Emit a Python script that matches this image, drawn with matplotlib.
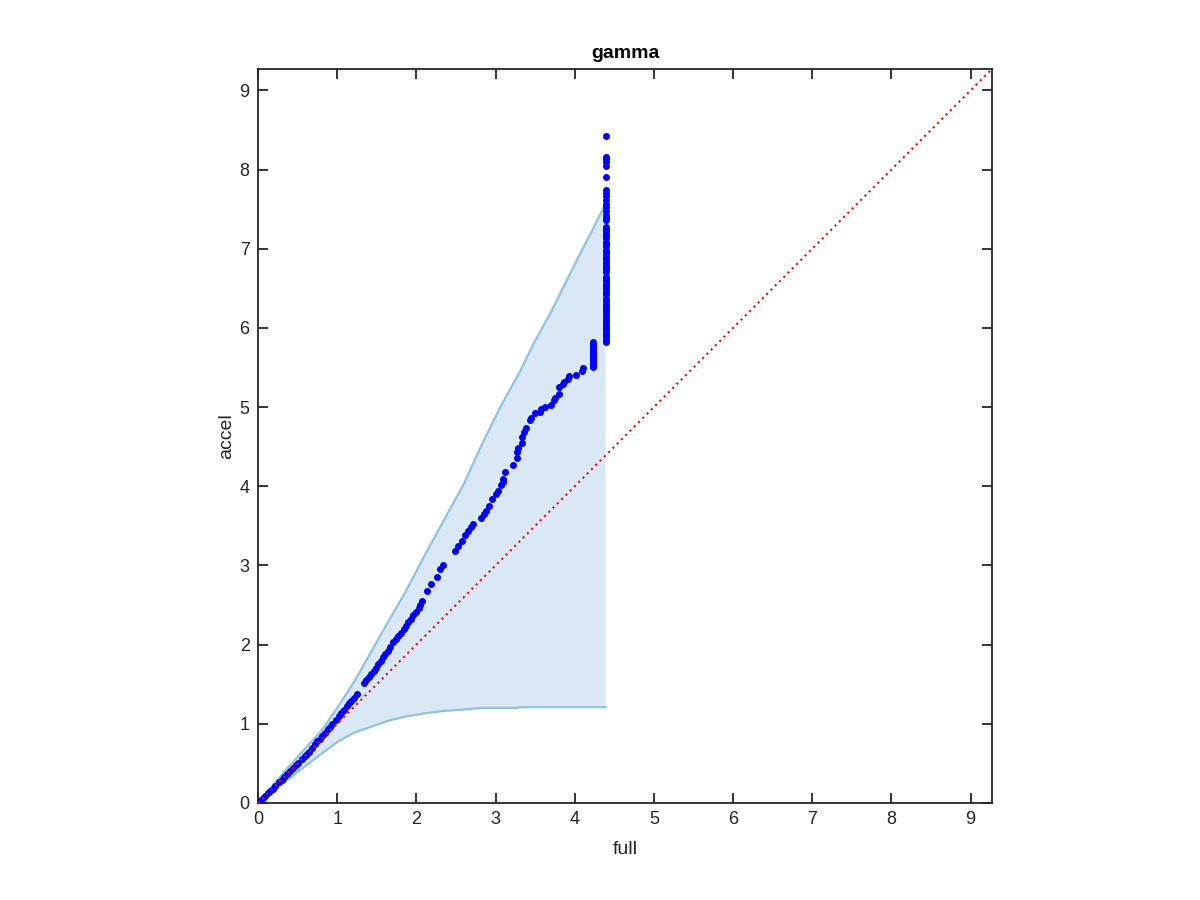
import matplotlib
matplotlib.use("Agg")
import matplotlib.pyplot as plt

plt.rcParams["font.family"] = ["Liberation Sans", "DejaVu Sans"]

# shaded band (upper / lower envelope)
band_x = [0.00, 0.15, 0.38, 0.80, 1.00, 1.22, 1.65, 1.86, 2.09, 2.32, 2.60,
          2.81, 3.06, 3.27, 3.31, 3.48, 3.69, 3.86, 4.07, 4.24, 4.39]
band_hi = [0.00, 0.18, 0.45, 0.91, 1.20, 1.54, 2.30, 2.66, 3.10, 3.52, 4.03,
           4.49, 5.00, 5.38, 5.45, 5.80, 6.18, 6.52, 6.94, 7.27, 7.57]
band_lo = [0.00, 0.12, 0.30, 0.62, 0.77, 0.89, 1.04, 1.09, 1.13, 1.16, 1.18,
           1.20, 1.20, 1.20, 1.21, 1.21, 1.21, 1.21, 1.21, 1.21, 1.21]

# scatter: (full, accel) pairs along the curve
curve = [(0.00, 0.00), (0.02, 0.02), (0.04, 0.04), (0.06, 0.06), (0.09, 0.09),
         (0.12, 0.12), (0.15, 0.15), (0.19, 0.18), (0.22, 0.22), (0.26, 0.26),
         (0.30, 0.29), (0.33, 0.33), (0.37, 0.36), (0.40, 0.40), (0.44, 0.44),
         (0.48, 0.48), (0.51, 0.51), (0.55, 0.55), (0.59, 0.59), (0.62, 0.62),
         (0.64, 0.65), (0.68, 0.69), (0.72, 0.74), (0.75, 0.78), (0.78, 0.81),
         (0.81, 0.85), (0.84, 0.88), (0.88, 0.93), (0.91, 0.96), (0.94, 1.00),
         (0.98, 1.05), (1.02, 1.10), (1.05, 1.14), (1.08, 1.18), (1.12, 1.22),
         (1.15, 1.26), (1.18, 1.29), (1.21, 1.33), (1.25, 1.38), (1.34, 1.51),
         (1.37, 1.55), (1.40, 1.59), (1.43, 1.63), (1.46, 1.67), (1.49, 1.71),
         (1.52, 1.75), (1.55, 1.79), (1.58, 1.84), (1.61, 1.88), (1.64, 1.92),
         (1.67, 1.97), (1.71, 2.03), (1.74, 2.07), (1.77, 2.11), (1.80, 2.15),
         (1.84, 2.20), (1.87, 2.24), (1.90, 2.28), (1.93, 2.32), (1.96, 2.37),
         (1.99, 2.41), (2.03, 2.46), (2.05, 2.50), (2.07, 2.55), (2.13, 2.68),
         (2.18, 2.76), (2.26, 2.85), (2.30, 2.95), (2.34, 3.00), (2.49, 3.18),
         (2.53, 3.25), (2.58, 3.31), (2.62, 3.39), (2.65, 3.44), (2.69, 3.48),
         (2.72, 3.52), (2.81, 3.60), (2.85, 3.65), (2.88, 3.69), (2.92, 3.75),
         (2.95, 3.84), (3.00, 3.90), (3.03, 3.94), (3.07, 4.01), (3.09, 4.05),
         (3.09, 4.09), (3.12, 4.18), (3.22, 4.27), (3.27, 4.36), (3.27, 4.43),
         (3.28, 4.48), (3.34, 4.55), (3.34, 4.62), (3.36, 4.68), (3.38, 4.74),
         (3.43, 4.84), (3.45, 4.86), (3.50, 4.92), (3.56, 4.94), (3.58, 4.97),
         (3.62, 5.00), (3.70, 5.03), (3.74, 5.09), (3.75, 5.12), (3.80, 5.17),
         (3.80, 5.25), (3.85, 5.29), (3.86, 5.32), (3.92, 5.36), (3.93, 5.39),
         (4.01, 5.41), (4.09, 5.45), (4.10, 5.49)]

# two vertical stacks of points near the right edge
stack1_full = 4.23
stack1_accel = [5.50, 5.52, 5.54, 5.56, 5.58, 5.60, 5.62, 5.64, 5.66, 5.68,
                5.70, 5.72, 5.74, 5.76, 5.78, 5.80, 5.82]
stack2_full = 4.40
stack2_accel = [5.82, 5.85, 5.88, 5.91, 5.94, 5.97, 5.99, 6.01, 6.04, 6.07,
                6.10, 6.14, 6.18, 6.21, 6.24, 6.27, 6.30, 6.34, 6.37, 6.41,
                6.44, 6.47, 6.50, 6.53, 6.56, 6.59, 6.62, 6.64, 6.71, 6.74,
                6.77, 6.80, 6.83, 6.87, 6.90, 6.93, 6.96, 6.98, 7.03, 7.06,
                7.09, 7.13, 7.16, 7.19, 7.22, 7.25, 7.28, 7.36, 7.39, 7.42,
                7.47, 7.53, 7.57, 7.61, 7.67, 7.70, 7.74, 7.91, 8.05, 8.09,
                8.13, 8.16, 8.42]

lim = 9.27
ax_color = "#262626"

full = [p[0] for p in curve]
accel = [p[1] for p in curve]
full += [stack1_full] * len(stack1_accel) + [stack2_full] * len(stack2_accel)
accel += stack1_accel + stack2_accel

fig = plt.figure(figsize=(12, 9), dpi=100)
ax = fig.add_axes([0.215, 0.1078, 0.6117, 0.8156])

ax.fill_between(band_x, band_lo, band_hi, facecolor="#d9e8f4",
                edgecolor="none", zorder=1)
ax.plot(band_x, band_hi, color="#8ec3e3", lw=1.6, zorder=2)
ax.plot(band_x, band_lo, color="#8ec3e3", lw=1.6, zorder=2)

ax.plot(full, accel, "o", color="#0000ff", ms=4.0, mec="#0000ff", zorder=3)
ax.plot([0, lim], [0, lim], color="#ff0000", lw=1.5,
        linestyle=(0, (1, 1.9)), zorder=4)

ax.set_xlim(0, lim)
ax.set_ylim(0, lim)
ax.set_xticks(range(10))
ax.set_yticks(range(10))
ax.tick_params(direction="in", length=7, width=1.3, colors=ax_color,
               labelsize=13, top=True, right=True, pad=6)
for s in ax.spines.values():
    s.set_color(ax_color)
    s.set_linewidth(1.3)

ax.set_xlabel("full", fontsize=14, color=ax_color, labelpad=9)
ax.set_ylabel("accel", fontsize=14, color=ax_color, labelpad=3)
ax.set_title("gamma", fontsize=14, fontweight="bold", pad=8)

fig.savefig("out.png", dpi=100)
